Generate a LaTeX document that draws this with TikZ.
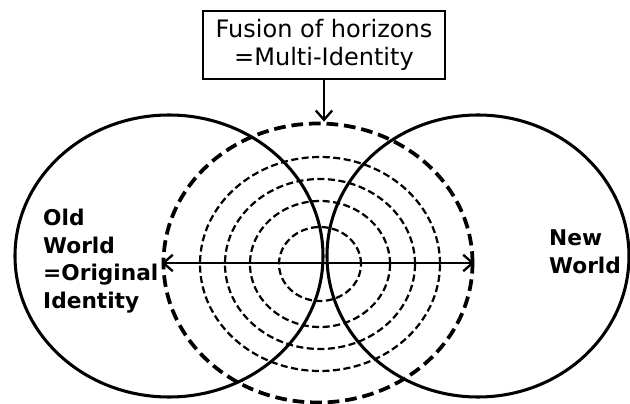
\documentclass[tikz,border=0pt]{standalone}
\usepackage{fontspec}
\setsansfont{DejaVu Sans}
\usetikzlibrary{arrows.meta, positioning, shapes.geometric}

\begin{document}
\begin{tikzpicture}[x=1cm, y=1cm,
  world/.style={ellipse, draw=black, line width=2.6pt, inner sep=0pt},
  ring/.style={ellipse, draw=black, line width=1.9pt, dash pattern=on 6pt off 3pt, inner sep=0pt},
  bigring/.style={ellipse, draw=black, line width=3.2pt, dash pattern=on 10pt off 5pt, inner sep=0pt},
  barbline/.style={line width=2pt},
  worldtext/.style={font=\fontsize{18.5}{23.5}\selectfont\sffamily\bfseries, align=left, anchor=west, inner sep=0pt}]
\useasboundingbox (0,0) rectangle (18.9,12.09);
\fill[white] (0,0) rectangle (18.9,12.09);
% the two worlds
\node[world, minimum width=9.24cm, minimum height=8.46cm] (old) at (5.07,4.41) {};
\node[world, minimum width=9.06cm, minimum height=8.46cm] (new) at (14.34,4.41) {};
% horizons
\node[bigring, minimum width=9.27cm, minimum height=8.37cm] (fusion) at (9.54,4.20) {};
\node[ring, minimum width=7.20cm, minimum height=6.42cm] (ring4) at (9.60,4.17) {};
\node[ring, minimum width=5.70cm, minimum height=5.10cm] (ring3) at (9.60,4.17) {};
\node[ring, minimum width=4.20cm, minimum height=3.78cm] (ring2) at (9.60,4.17) {};
\node[ring, minimum width=2.46cm, minimum height=2.22cm] (ring1) at (9.60,4.17) {};
\draw[barbline, {Straight Barb[length=8pt, width=14pt]}-{Straight Barb[length=8pt, width=14pt]}]
  (fusion.west) -- (fusion.east);
% caption box
\node[draw=black, line width=2pt, minimum width=7.26cm, minimum height=2.04cm, align=center,
  font=\fontsize{20.5}{24}\selectfont\sffamily] (horizon) at (9.72,10.74) {Fusion of horizons\\=Multi-Identity};
\draw[barbline, -{Straight Barb[length=8pt, width=14pt]}] (horizon.south) -- (horizon.south |- fusion.north);
% labels
\node[worldtext] (oldtext) at (1.29,4.26) {Old\\World\\=Original\\Identity};
\node[worldtext] (newtext) at (16.47,4.545) {New\\World};
\end{tikzpicture}
\end{document}
